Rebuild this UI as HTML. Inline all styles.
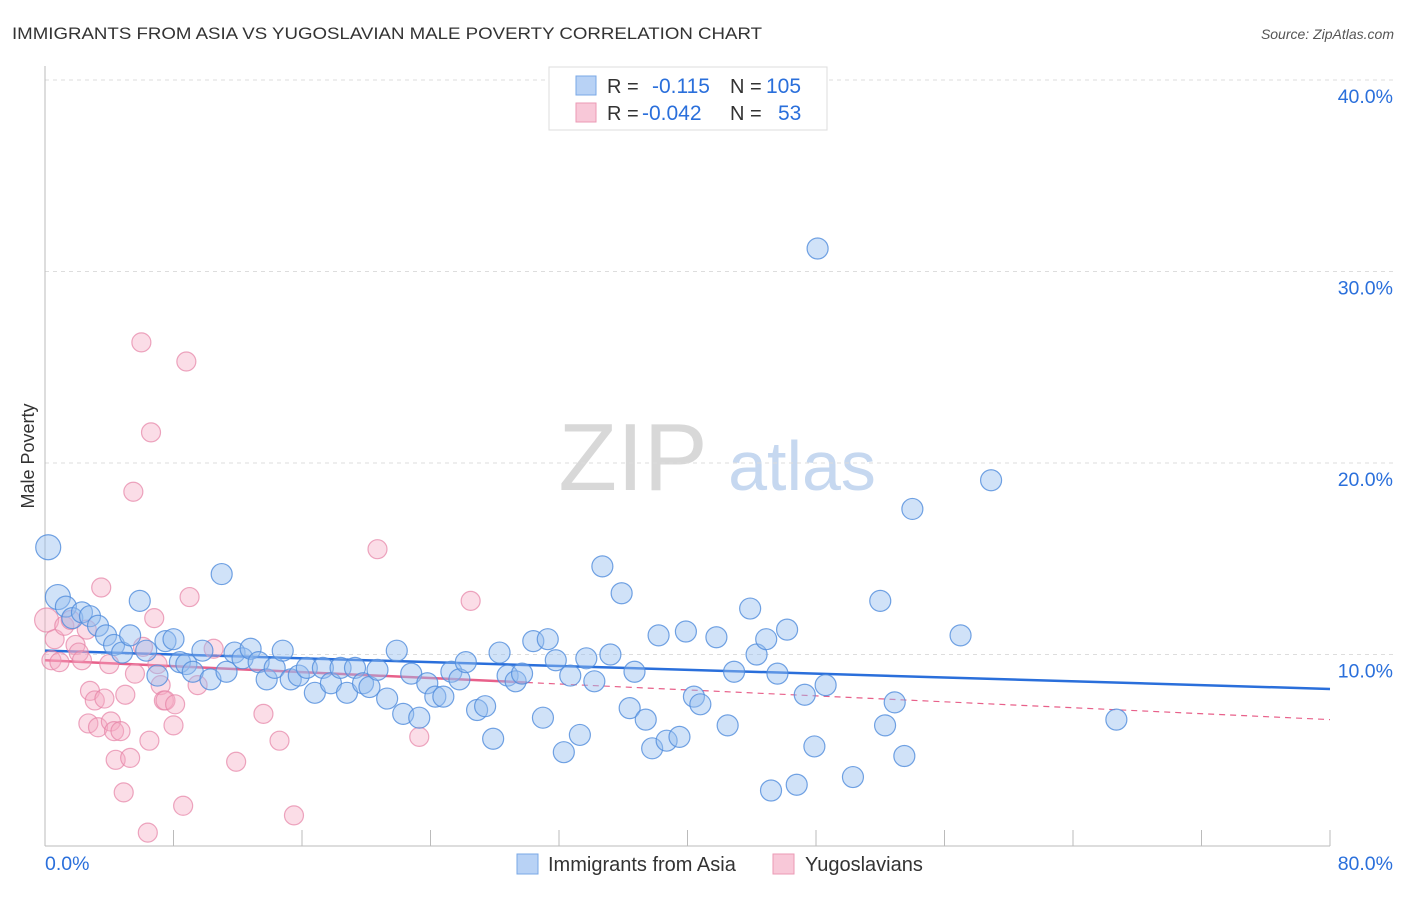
<!DOCTYPE html>
<html><head><meta charset="utf-8"><style>
body{margin:0;background:#fff;font-family:"Liberation Sans",sans-serif;}
svg text{font-family:"Liberation Sans",sans-serif;}
</style></head><body>
<svg id="chart" width="1406" height="892" viewBox="0 0 1406 892" xmlns="http://www.w3.org/2000/svg">
<text x="12" y="39" font-size="17" fill="#333" textLength="750" lengthAdjust="spacingAndGlyphs">IMMIGRANTS FROM ASIA VS YUGOSLAVIAN MALE POVERTY CORRELATION CHART</text>
<text x="1394" y="39" font-size="14" fill="#555" font-style="italic" text-anchor="end">Source: ZipAtlas.com</text>
<g>
<text x="633" y="490" font-size="96" fill="#d8d8d8" font-family="Liberation Serif" text-anchor="middle">ZIP</text>
<text x="802" y="490" font-size="70" fill="#c6d8f0" text-anchor="middle">atlas</text>
</g>
<g id="grid"></g>
<g id="axes"></g>
<g id="trends"></g>
<g id="points"></g>
<text transform="translate(34,456) rotate(-90)" font-size="18" fill="#333" text-anchor="middle">Male Poverty</text>
<g>
<rect x="549" y="67" width="278" height="63" fill="#fff" stroke="#ddd"/>
<rect x="576" y="76" width="20" height="19" fill="#b8d2f5" stroke="#7aa8e6"/>
<rect x="576" y="103" width="20" height="19" fill="#f8c8d8" stroke="#eb9ab5"/>
<text x="607" y="93" font-size="20" fill="#333">R = </text>
<text x="652" y="93" font-size="21" fill="#2a6fdb">-0.115</text>
<text x="730" y="93" font-size="20" fill="#333">N = </text>
<text x="766" y="93" font-size="21" fill="#2a6fdb">105</text>
<text x="607" y="120" font-size="20" fill="#333">R = </text>
<text x="642" y="120" font-size="21" fill="#2a6fdb">-0.042</text>
<text x="730" y="120" font-size="20" fill="#333">N = </text>
<text x="778" y="120" font-size="21" fill="#2a6fdb">53</text>
</g>
<g>
<rect x="517" y="854" width="21" height="20" fill="#b8d2f5" stroke="#7aa8e6"/>
<text x="548" y="871" font-size="20" fill="#333">Immigrants from Asia</text>
<rect x="773" y="854" width="21" height="20" fill="#f8c8d8" stroke="#eb9ab5"/>
<text x="805" y="871" font-size="20" fill="#333">Yugoslavians</text>
</g>
</svg>
<script>
const blueX=[0.2,0.8,1.3,1.7,2.3,2.8,3.3,3.8,4.3,4.8,5.3,5.9,6.3,7.0,7.5,8.0,8.4,8.8,9.2,9.8,10.3,11.0,11.3,11.8,12.3,12.8,13.3,13.8,14.3,14.8,15.3,15.8,16.3,16.8,17.3,17.8,18.4,18.8,19.3,19.8,20.2,20.7,21.3,21.9,22.3,22.8,23.3,23.8,24.3,24.8,25.3,25.8,26.2,26.9,27.4,27.9,28.3,28.8,29.3,29.7,30.4,31.0,31.3,31.8,32.3,32.7,33.3,33.7,34.2,34.7,35.2,35.9,36.4,36.7,37.4,37.8,38.2,38.7,39.5,39.9,40.4,40.8,41.8,42.5,42.9,43.9,44.3,44.9,45.2,45.6,46.2,46.8,47.3,47.9,48.1,48.6,50.3,52.0,52.3,52.9,53.5,54.0,57.0,58.9,66.7];
const blueY=[15.6,13.0,12.5,11.9,12.2,12.0,11.5,11.0,10.5,10.1,11.0,12.8,10.2,8.9,10.7,10.8,9.6,9.5,9.1,10.2,8.7,14.2,9.1,10.1,9.8,10.3,9.6,8.7,9.3,10.2,8.7,8.9,9.3,8.0,9.3,8.5,9.3,8.0,9.3,8.5,8.3,9.2,7.7,10.2,6.9,9.0,6.7,8.5,7.8,7.8,9.1,8.7,9.6,7.1,7.3,5.6,10.1,8.9,8.6,9.0,10.7,6.7,10.8,9.7,4.9,8.9,5.8,9.8,8.6,14.6,10.0,13.2,7.2,9.1,6.6,5.1,11.0,5.5,5.7,11.2,7.8,7.4,10.9,6.3,9.1,12.4,10.0,10.8,2.9,9.0,11.3,3.2,7.9,5.2,31.2,8.4,3.6,12.8,6.3,7.5,4.7,17.6,11.0,19.1,6.6];
const pinkX=[0.1,0.6,0.4,0.9,1.2,1.6,1.9,2.1,2.3,2.6,2.7,2.8,3.1,3.3,3.5,3.7,4.0,4.1,4.3,4.4,4.7,4.9,5.0,5.3,5.6,6.0,6.1,6.4,6.5,6.6,6.8,7.0,7.2,7.4,7.5,8.0,8.1,8.6,8.8,9.0,9.5,10.5,11.9,13.6,14.6,15.5,20.7,23.3,26.5,5.5];
const pinkY=[11.8,10.8,9.7,9.6,11.5,11.8,10.5,10.1,9.7,11.3,6.4,8.1,7.6,6.2,13.5,7.7,9.5,6.5,6.0,4.5,6.0,2.8,7.9,4.6,9.0,26.3,10.4,0.7,5.5,21.6,11.9,9.5,8.4,7.6,7.6,6.3,7.4,2.1,25.3,13.0,8.4,10.3,4.4,6.9,5.5,1.6,15.5,5.7,12.8,18.5];
const xTicks=[0,80];
const yTicks=[10,20,30,40];
const blueTrend=[10.2,8.2];
const pinkTrend=[9.7,6.6];
const pinkSolidEnd=30;
const NS='http://www.w3.org/2000/svg';
const X0=45,X1=1330,Y0=846,Y40=80;
function sx(v){return X0+(X1-X0)*v/80;}
function sy(v){return Y0-(Y0-Y40)*v/40;}
function mk(tag,attrs,parent){const e=document.createElementNS(NS,tag);for(const k in attrs)e.setAttribute(k,attrs[k]);document.getElementById(parent).appendChild(e);return e;}
yTicks.forEach(t=>{
 const l=mk('line',{x1:X0,x2:1394,y1:sy(t),y2:sy(t),stroke:'#ddd','stroke-dasharray':'4,4'},'grid');
 
 
 const tx=mk('text',{x:1393,y:sy(t)+23,'font-size':19.5,fill:'#2a6fdb','text-anchor':'end'},'axes');
 tx.textContent=t.toFixed(1)+'%';
 
 
});
const ax=mk('line',{x1:X0,x2:X0,y1:66,y2:Y0,stroke:'#bbb'},'axes');


const bx=mk('line',{x1:X0,x2:X1,y1:Y0,y2:Y0,stroke:'#bbb'},'axes');


for(let i=1;i<=10;i++){
 const t=mk('line',{x1:sx(i*8),x2:sx(i*8),y1:830,y2:Y0,stroke:'#bbb'},'axes');
 
 
}
xTicks.forEach((t,i)=>{
 const tx=mk('text',{x:i==0?45:1393,y:870,'font-size':19.5,fill:'#2a6fdb','text-anchor':i==0?'start':'end'},'axes');
 tx.textContent=t.toFixed(1)+'%';
 
 
});
pinkX.forEach((x,i)=>{
 const c=mk('circle',{cx:sx(x),cy:sy(pinkY[i]),r:i==0?12:9.5,fill:'rgba(245,170,195,0.4)',stroke:'rgba(230,130,165,0.7)','stroke-width':1.2},'points');
 
 
});
blueX.forEach((x,i)=>{
 const c=mk('circle',{cx:sx(x),cy:sy(blueY[i]),r:i<2?12.5:10.5,fill:'rgba(150,190,240,0.45)',stroke:'rgba(80,140,220,0.8)','stroke-width':1.2},'points');
 
 
});
const pAt=x=>pinkTrend[0]+(pinkTrend[1]-pinkTrend[0])*x/80;
const p1=mk('line',{x1:sx(0),y1:sy(pinkTrend[0]),x2:sx(pinkSolidEnd),y2:sy(pAt(pinkSolidEnd)),stroke:'#e8608a','stroke-width':2.5},'trends');


const p2=mk('line',{x1:sx(pinkSolidEnd),y1:sy(pAt(pinkSolidEnd)),x2:sx(80),y2:sy(pinkTrend[1]),stroke:'#e8608a','stroke-width':1.2,'stroke-dasharray':'6,5'},'trends');


const b1=mk('line',{x1:sx(0),y1:sy(blueTrend[0]),x2:sx(80),y2:sy(blueTrend[1]),stroke:'#2a6fdb','stroke-width':2.5},'trends');


</script>
</body></html>
